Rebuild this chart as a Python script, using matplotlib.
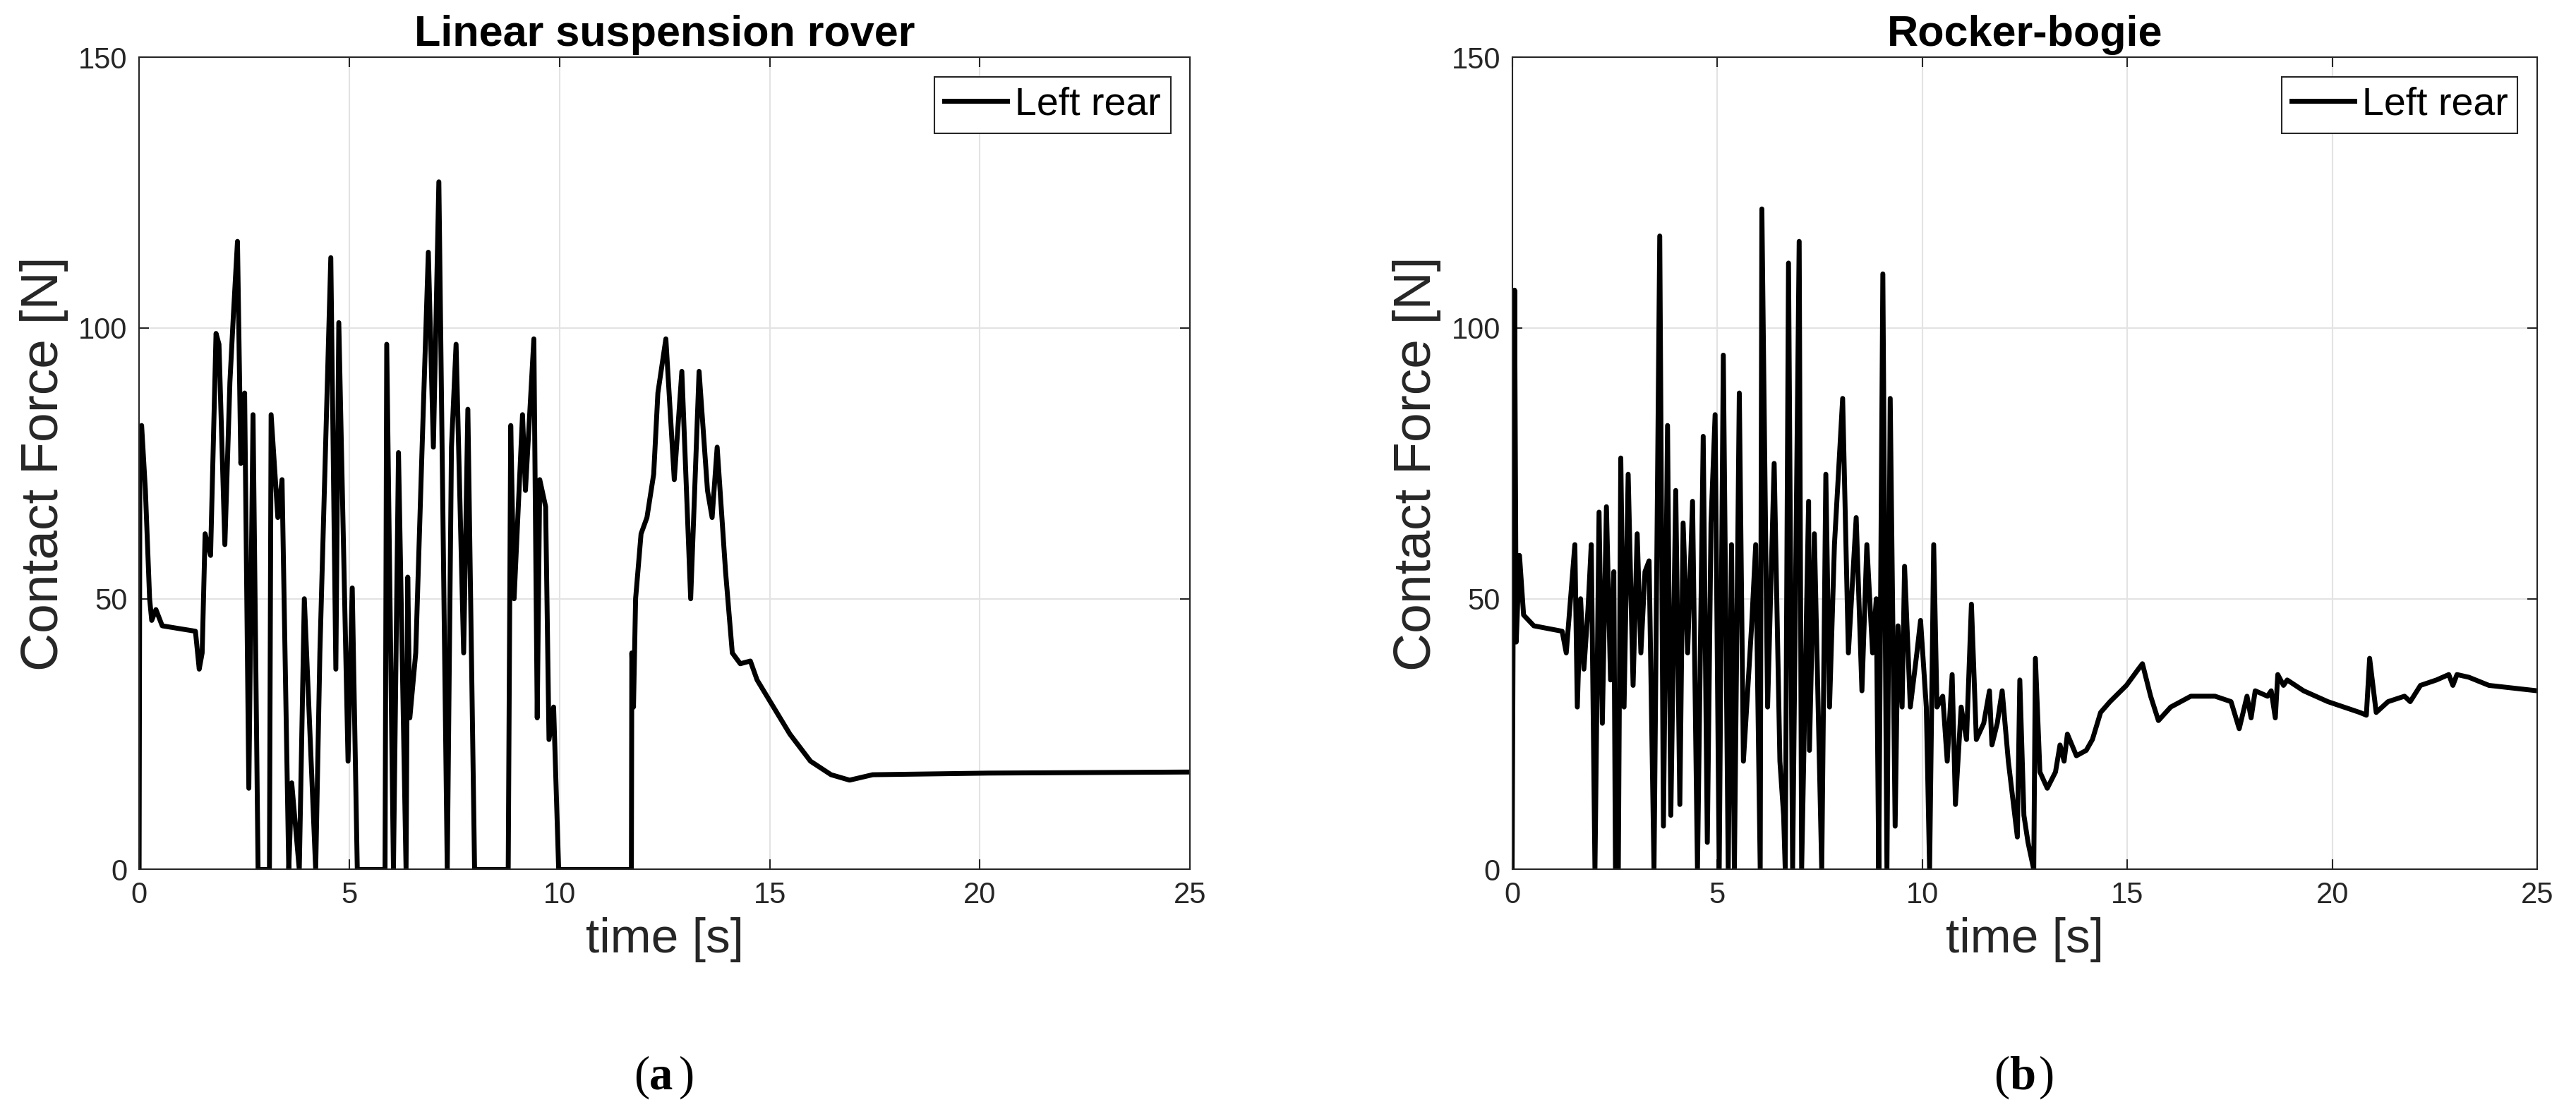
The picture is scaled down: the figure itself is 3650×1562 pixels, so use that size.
import matplotlib
matplotlib.use('Agg')
import matplotlib.pyplot as plt

plt.rcParams['font.family'] = ['Liberation Sans', 'DejaVu Sans']

# 线性悬架 left rear contact force
t_linear = [0, 0.02, 0.06, 0.15, 0.25, 0.3, 0.4, 0.55, 1.34, 1.43, 1.5, 1.57, 1.7, 1.83, 1.9, 2.04,
            2.16, 2.24, 2.34, 2.42, 2.51, 2.61, 2.71, 2.83, 3.1, 3.14, 3.3, 3.4, 3.56, 3.63, 3.81,
            3.93, 4.2, 4.3, 4.56, 4.68, 4.75, 4.97, 5.07, 5.19, 5.85, 5.89, 6.05, 6.17, 6.35, 6.39,
            6.44, 6.58, 6.74, 6.88, 7.0, 7.13, 7.33, 7.43, 7.54, 7.72, 7.82, 7.98, 8.78, 8.84, 8.92,
            9.12, 9.19, 9.39, 9.47, 9.53, 9.67, 9.75, 9.86, 9.98, 11.71, 11.72, 11.76, 11.81, 11.94,
            12.08, 12.24, 12.34, 12.53, 12.73, 12.91, 13.12, 13.32, 13.52, 13.63, 13.75, 13.95,
            14.11, 14.3, 14.54, 14.7, 15.09, 15.48, 15.97, 16.46, 16.9, 17.45, 20.2, 25]
f_linear = [0, 80, 82, 70, 50, 46, 48, 45, 44, 37, 40, 62, 58, 99, 97, 60,
            90, 102, 116, 75, 88, 15, 84, 0, 0, 84, 65, 72, 0, 16, 0,
            50, 0, 40, 113, 37, 101, 20, 52, 0, 0, 97, 0, 77, 0, 54,
            28, 40, 80, 114, 78, 127, 0, 78, 97, 40, 85, 0, 0, 82, 50,
            84, 70, 98, 28, 72, 67, 24, 30, 0, 0, 40, 30, 50, 62,
            65, 73, 88, 98, 72, 92, 50, 92, 70, 65, 78, 55,
            40, 38, 38.5, 35, 30, 25, 20, 17.5, 16.5, 17.5, 17.8, 18]

# rocker-bogie left rear contact force
t_rocker = [0, 0.06, 0.1, 0.18, 0.28, 0.53, 1.22, 1.32, 1.53, 1.59, 1.67, 1.75, 1.85, 1.93, 2.02,
            2.12, 2.2, 2.3, 2.4, 2.48, 2.52, 2.59, 2.65, 2.73, 2.83, 2.95, 3.05, 3.14, 3.24, 3.34,
            3.46, 3.6, 3.69, 3.79, 3.87, 3.99, 4.09, 4.17, 4.28, 4.4, 4.52, 4.66, 4.76, 4.85, 4.95,
            5.05, 5.15, 5.27, 5.35, 5.42, 5.54, 5.64, 5.84, 5.94, 6.05, 6.09, 6.23, 6.39, 6.53,
            6.62, 6.66, 6.74, 6.84, 7.0, 7.06, 7.23, 7.25, 7.37, 7.55, 7.65, 7.74, 7.86, 8.06,
            8.2, 8.39, 8.53, 8.65, 8.79, 8.88, 8.94, 9.04, 9.14, 9.22, 9.34, 9.41, 9.51, 9.57,
            9.71, 9.87, 9.96, 10.1, 10.18, 10.28, 10.36, 10.5, 10.61, 10.73, 10.81, 10.95, 11.08,
            11.2, 11.32, 11.5, 11.64, 11.7, 11.83, 11.95, 12.1, 12.32, 12.38, 12.48, 12.58, 12.72,
            12.76, 12.87, 13.05, 13.25, 13.36, 13.46, 13.54, 13.76, 14.0, 14.15, 14.35, 14.58,
            14.98, 15.27, 15.37, 15.57, 15.76, 16.06, 16.55, 17.14, 17.53, 17.73, 17.92, 18.02,
            18.12, 18.42, 18.51, 18.61, 18.67, 18.81, 18.9, 19.3, 19.89, 20.67, 20.83, 20.91,
            21.07, 21.36, 21.76, 21.9, 22.15, 22.54, 22.84, 22.94, 23.04, 23.33, 23.82, 25]
f_rocker = [0, 107, 42, 58, 47, 45, 44, 40, 60, 30, 50, 37, 48, 60, 0,
            66, 27, 67, 35, 55, 0, 0, 76, 30, 73, 34, 62, 40, 55, 57,
            0, 117, 8, 82, 10, 70, 12, 64, 40, 68, 0, 80, 5, 64, 84,
            0, 95, 0, 60, 0, 88, 20, 45, 60, 0, 122, 30, 75, 20,
            10, 0, 112, 0, 116, 0, 68, 22, 62, 0, 73, 30, 60, 87,
            40, 65, 33, 60, 40, 50, 0, 110, 0, 87, 8, 45, 30, 56,
            30, 40, 46, 30, 0, 60, 30, 32, 20, 36, 12, 30, 24,
            49, 24, 27, 33, 23, 27, 33, 20, 6, 35, 10, 5, 0,
            39, 18, 15, 18, 23, 20, 25, 21, 22, 24, 29, 31,
            34, 37, 38, 32, 27.5, 30, 32, 32, 31, 26, 32, 28,
            33, 32, 33, 28, 36, 34, 35, 33, 31, 29, 28.5, 39,
            29, 31, 32, 31, 34, 35, 36, 34, 36, 35.5, 34, 33]

titles = ['Linear suspension rover', 'Rocker-bogie']
captions = ['a', 'b']

fig = plt.figure(figsize=(36.5, 15.62), dpi=100)
positions = [[0.054, 0.211, 0.408, 0.737], [0.587, 0.211, 0.398, 0.737]]
data = [(t_linear, f_linear), (t_rocker, f_rocker)]

for i in range(2):
    ax = fig.add_axes(positions[i])
    t, f = data[i]
    ax.plot(t, f, color='black', linewidth=5, label='Left rear')
    ax.set_xlim(0, 25)
    ax.set_ylim(0, 150)
    ax.set_xticks([0, 5, 10, 15, 20, 25])
    ax.set_yticks([0, 50, 100, 150])
    ax.grid(True, color='#e3e3e3', linewidth=1.5)
    ax.tick_params(direction='in', labelsize=30, colors='#262626', length=10, width=1.5,
                   top=True, right=True, pad=12)
    for s in ax.spines.values():
        s.set_color('#262626')
        s.set_linewidth(1.5)
    ax.set_title(titles[i], fontsize=44, fontweight='bold', pad=12)
    ax.set_xlabel('time [s]', fontsize=50, color='#262626', labelpad=8)
    ax.set_ylabel('Contact Force [N]', fontsize=54, color='#262626', labelpad=10)
    leg = ax.legend(loc='upper right', fontsize=40, fancybox=False, handlelength=1.6,
                    handletextpad=0.2, borderpad=0.25, borderaxespad=0.5)
    leg.get_frame().set_edgecolor('#262626')
    leg.get_frame().set_linewidth(1.5)
    leg.get_frame().set_alpha(1)
    cx = positions[i][0] + positions[i][2] / 2
    fig.text(cx - 0.006, 0.012, '(', fontsize=48, family='Liberation Serif', ha='right', va='baseline')
    fig.text(cx - 0.006, 0.012, captions[i], fontsize=48, family='Liberation Serif',
             fontweight='bold', ha='left', va='baseline')
    fig.text(cx + 0.0055, 0.012, ')', fontsize=48, family='Liberation Serif', ha='left', va='baseline')

fig.savefig('out.png', dpi=100)
